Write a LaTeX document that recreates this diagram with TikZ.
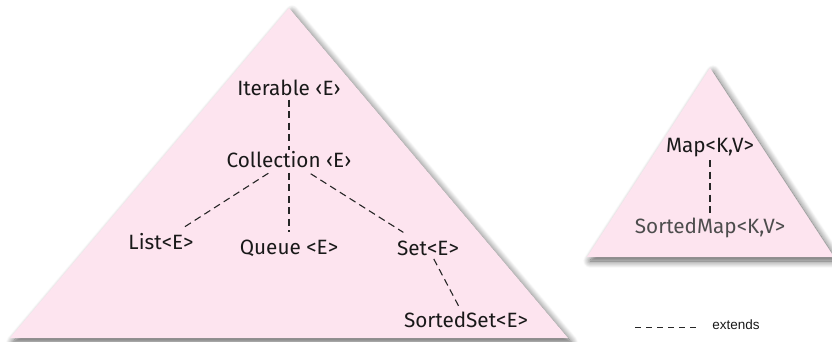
\documentclass[tikz,border=0pt]{standalone}
\usepackage{fontspec}
\setmainfont{Fira Sans}
\newfontfamily\legendfont{Liberation Sans}
\usepackage{tikz}
\usetikzlibrary{positioning, shadows.blur}
\definecolor{pinkfill}{HTML}{FDE4EF}
\definecolor{mapgray}{HTML}{4D4D4D}

\begin{document}
\begin{tikzpicture}[-,x=1pt,y=-1pt,semithick,
        every node/.style={font=\fontsize{20.7}{23}\selectfont,inner sep=1.5pt,text=black!90}]
        \tikzstyle{tri}=[fill=pinkfill,blur shadow={shadow xshift=3pt,shadow yshift=-4pt,shadow blur radius=7pt,shadow blur steps=12,shadow opacity=65}]
        \tikzstyle{ext}=[draw=black!85,dash pattern=on 7pt off 4.5pt,line width=1.1pt]
        \useasboundingbox (0,0) rectangle (832,342);
        % the two families
        \path[tri] (289,8) -- (568,338) -- (10,338) -- cycle;
        \path[tri] (710,68) -- (834,257) -- (587,257) -- cycle;

        \node(Iter) at (289,88) {Iterable ‹E›};
        \node(Coll) at (289,160) {Collection ‹E›};
        \node(List) at (161,242) {List<E>};
        \node(Queue) at (289,248) {Queue <E>};
        \node(Set) at (428,248) {Set<E>};
        \node(SSet) at (466,320) {SortedSet<E>};
        \node(Map) at (710,148) {Map<K,V>};
        \node[text=mapgray](SMap) at (710,228) {SortedMap<K,V>};

        \path (Iter) edge[ext, shorten <=2pt, shorten >=0pt] (Coll);
        \path (Coll) edge[ext, shorten <=6pt, shorten >=6pt] (List);
        \path (Coll) edge[ext, shorten <=3pt, shorten >=6pt] (Queue);
        \path (Coll) edge[ext, shorten <=7pt, shorten >=12pt] (Set);
        \path (Set) edge[ext, shorten <=2pt, shorten >=3pt] (SSet);
        \path (Map) edge[ext, shorten <=1pt, shorten >=2pt] (SMap);

        % legend
        \coordinate (lgs) at (635,327);
        \node[font=\legendfont\fontsize{13.5}{16}\selectfont,anchor=west,inner sep=0pt](Ext) at (712,325) {extends};
        \path (lgs) edge[draw=black!85,dash pattern=on 6pt off 5pt,line width=0.9pt, shorten >=15pt] (Ext.west |- lgs);
\end{tikzpicture}
\end{document}
